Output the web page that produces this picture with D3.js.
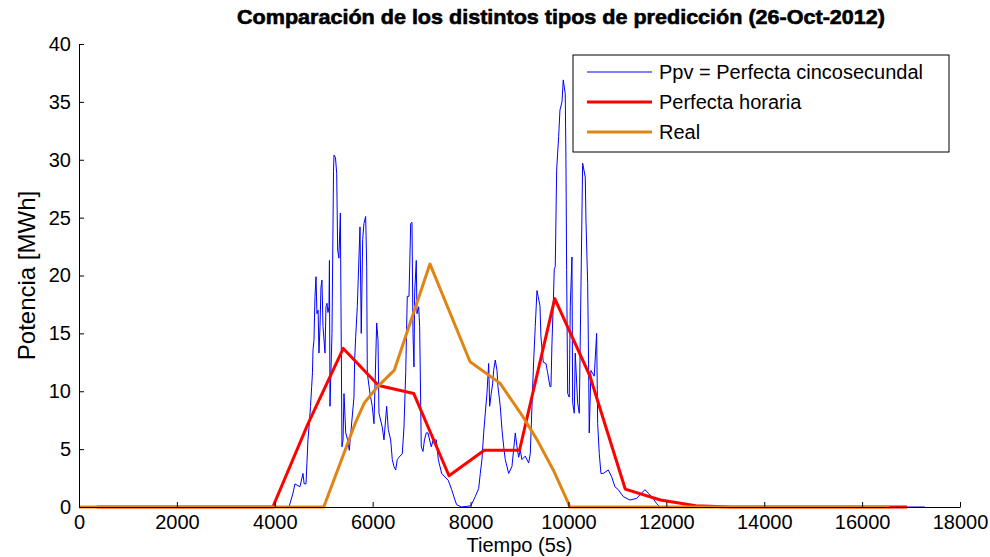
<!DOCTYPE html>
<html>
<head>
<meta charset="utf-8">
<script src="https://cdn.jsdelivr.net/npm/d3@7"></script>
<style>
  body { margin: 0; background: #fff; }
  svg { display: block; font-family: "Liberation Sans", Arial, sans-serif; }
  .axis text { font-size: 20px; fill: #000; }
  .axis path, .axis line { stroke: #000; }
</style>
</head>
<body>
<svg id="chart" width="990" height="557"></svg>
<script>
/* Comparacion de predicciones - line chart */

//* Data *//

// Ppv = Perfecta cincosecundal  [tiempo (5s), potencia MWh]
const ppvPuntos = [
  [0,0],[4290,0],[4372,1.2],[4413,2.0],[4450,1.9],[4515,1.75],[4576,2.9],[4600,2.0],[4638,2.0],
  [4678,5.8],[4700,6.9],[4730,8.7],[4754,10.4],[4770,11.6],[4781,13.6],[4801,14.4],[4822,18.2],
  [4842,19.9],[4862,16.7],[4885,17.0],[4903,13.3],[4924,15.6],[4944,19.0],[4964,19.6],[4985,15.6],
  [5026,13.3],[5046,17.3],[5067,17.6],[5087,16.8],[5107,17.3],[5117,21.3],[5128,8.7],[5148,11.8],
  [5169,15.0],[5200,29.0],[5210,30.4],[5240,30.2],[5265,28.8],[5285,22.2],[5310,21.5],[5340,25.4],
  [5353,17.3],[5373,5.2],[5395,5.8],[5414,9.8],[5450,6.4],[5489,5.8],[5522,4.9],[5618,9.5],
  [5632,12.7],[5653,14.7],[5686,17.3],[5741,24.2],[5767,15.0],[5796,23.1],[5822,24.5],[5857,25.1],
  [5878,20.8],[5890,11.6],[5945,9.8],[5992,8.7],[6027,7.2],[6082,15.9],[6109,14.4],[6129,8.1],
  [6196,6.9],[6231,5.8],[6286,8.7],[6319,6.7],[6368,5.8],[6401,4.1],[6435,3.5],[6470,3.2],
  [6503,4.1],[6538,4.3],[6605,4.6],[6640,6.9],[6675,11.6],[6707,18.2],[6742,18.2],[6777,24.5],
  [6803,24.6],[6824,15.0],[6844,12.1],[6858,18.5],[6891,21.3],[6905,16.7],[6940,17.3],[6960,15.6],
  [6993,5.2],[7028,4.8],[7058,5.8],[7095,6.4],[7130,6.4],[7197,5.2],[7238,5.8],[7300,5.8],
  [7341,4.1],[7410,2.9],[7477,2.6],[7545,2.3],[7614,1.5],[7682,0.6],[7716,0.2],[7818,0],
  [8000,0.1],[8029,0.3],[8096,0.9],[8166,1.6],[8199,2.9],[8233,4.1],[8268,6.4],[8301,8.1],
  [8335,9.8],[8370,12.4],[8390,8.7],[8423,9.8],[8452,10.7],[8472,11.8],[8505,12.7],[8540,11.8],
  [8560,10.4],[8607,8.7],[8642,6.7],[8677,5.2],[8709,4.1],[8779,2.9],[8846,3.5],[8914,6.4],
  [8948,5.2],[8983,4.3],[9016,4.9],[9050,4.1],[9118,4.4],[9187,3.8],[9220,4.6],[9255,8.7],
  [9289,12.6],[9322,15.6],[9357,18.7],[9380,18.2],[9418,17.4],[9438,14.7],[9486,12.5],[9541,12.4],
  [9575,11.6],[9623,10.4],[9643,10.4],[9663,14.1],[9690,17.6],[9710,20.5],[9731,20.8],[9759,29.1],
  [9800,32.0],[9827,34.3],[9868,35.0],[9894,36.9],[9935,35.7],[9949,30.0],[9963,20.5],[9984,9.8],
  [10017,9.5],[10037,17.3],[10072,21.6],[10086,9.0],[10119,8.1],[10139,13.3],[10188,9.0],[10221,8.1],
  [10290,29.7],[10344,28.5],[10358,24.8],[10393,19.3],[10413,11.8],[10425,6.4],[10460,11.8],[10527,11.3],
  [10576,15.0],[10597,7.2],[10630,4.6],[10664,2.9],[10711,2.9],[10814,3.2],[10883,2.6],[10950,1.75],
  [11018,1.5],[11120,0.9],[11257,0.6],[11394,0.75],[11563,1.5],[11630,1.2],[11703,0.9],[11802,0.3],
  [11870,0],[17280,0]
];

// Perfecta horaria: one value per hour (24 h), drawn at the middle of each hour
const horas = d3.range(24);
const horariaValores = [0, 0, 0, 0, 0, 0, 7.2, 13.7, 10.5, 9.8, 2.7, 4.9,
                        4.9, 18.0, 11.3, 1.55, 0.6, 0.1, 0, 0, 0, 0, 0, 0];

// Real
const realTiempo = [0, 5000, 5650, 5830, 6100, 6440, 7170, 7990, 8600, 9070, 9360, 9690, 9970, 10030, 16560];
const realValores = [0, 0, 7.3, 9.0, 10.4, 11.8, 21.0, 12.55, 10.7, 7.8, 5.8, 3.2, 0.6, 0, 0];

const xTicks = [0, 2000, 4000, 6000, 8000, 10000, 12000, 14000, 16000, 18000];
const yTicks = [0, 5, 10, 15, 20, 25, 30, 35, 40];

const series = ["Ppv = Perfecta cincosecundal", "Perfecta horaria", "Real"];
const colores = ["#0000ff", "#ff0000", "#e08514"];
const grosor = [1, 3, 3];

//* Chart code *//

const svg = d3.select("#chart"),
    margin = {top: 44, right: 30, bottom: 50, left: 79},
    width = 990 - margin.left - margin.right,
    height = 557 - margin.top - margin.bottom,
    g = svg.append("g").attr("transform", "translate(" + margin.left + "," + margin.top + ")");

const x = d3.scaleLinear().domain([0, 18000]).range([0, width]);
const y = d3.scaleLinear().domain([0, 40]).range([height, 0]);

// lines
const line = d3.line()
    .x(function(d) { return x(d[0]); })
    .y(function(d) { return y(d[1]); });

const horariaPuntos = horas.map(function(h, i) { return [(h + 0.5) * 720, horariaValores[i]]; });
const realPuntos = realTiempo.map(function(t, i) { return [t, realValores[i]]; });

[ppvPuntos, horariaPuntos, realPuntos].forEach(function(pts, i) {
  g.append("path")
    .datum(pts)
    .attr("fill", "none")
    .attr("stroke", colores[i])
    .attr("stroke-width", grosor[i])
    .attr("stroke-linejoin", "round")
    .attr("d", line);
});

// axes (ticks pointing inwards, no box)
const xAxisCall = d3.axisBottom(x).tickValues(xTicks).tickSize(-5).tickSizeOuter(0).tickPadding(8)
    .tickFormat(function(d) { return d; });
g.append("g")
    .attr("class", "x axis")
    .attr("transform", "translate(0," + height + ")")
    .call(xAxisCall);

const yAxisCall = d3.axisLeft(y).tickValues(yTicks).tickSize(-5).tickSizeOuter(0).tickPadding(8);
g.append("g")
    .attr("class", "y axis")
    .call(yAxisCall);

// labels
svg.append("text")
    .attr("x", margin.left + width / 2)
    .attr("y", 552)
    .attr("font-size", "20px")
    .attr("text-anchor", "middle")
    .text("Tiempo (5s)");

svg.append("text")
    .attr("transform", "translate(35," + (margin.top + height / 2) + ") rotate(-90)")
    .attr("font-size", "24px")
    .attr("text-anchor", "middle")
    .text("Potencia [MWh]");

svg.append("text")
    .attr("x", 561)
    .attr("y", 24)
    .attr("font-size", "20px")
    .attr("font-weight", "bold")
    .attr("stroke", "#000")
    .attr("stroke-width", 0.6)
    .attr("text-anchor", "middle")
    .attr("textLength", 648)
    .attr("lengthAdjust", "spacingAndGlyphs")
    .text("Comparación de los distintos tipos de predicción (26-Oct-2012)");

// legend
const legend = svg.append("g").attr("transform", "translate(573,55)");
legend.append("rect")
    .attr("width", 376)
    .attr("height", 97)
    .attr("fill", "#fff")
    .attr("stroke", "#000")
    .attr("stroke-width", 1);

const item = legend.selectAll("g.item")
    .data(series)
    .enter().append("g")
    .attr("class", "item")
    .attr("transform", function(d, i) { return "translate(0," + (17 + i * 30) + ")"; });

item.append("line")
    .attr("x1", 14).attr("x2", 79)
    .attr("stroke", function(d, i) { return colores[i]; })
    .attr("stroke-width", function(d, i) { return grosor[i]; });

item.append("text")
    .attr("x", 86)
    .attr("dy", "0.35em")
    .attr("font-size", "20px")
    .text(function(d) { return d; });
</script>
</body>
</html>
